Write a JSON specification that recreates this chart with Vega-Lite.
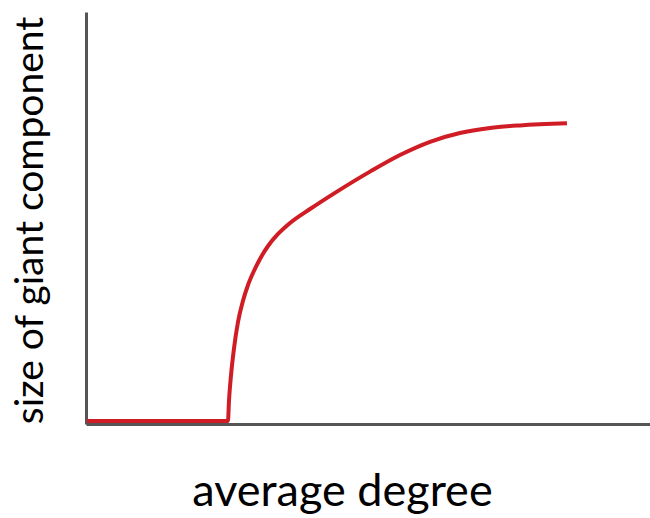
{
  "$schema": "https://vega.github.io/schema/vega-lite/v6.json",
  "width": 564,
  "height": 412,
  "autosize": {"type": "none"},
  "padding": {"left": 86, "top": 12, "right": 0, "bottom": 94},
  "background": "white",
  "config": {"view": {"stroke": null}},
  "data": {
    "values": [
      {"degree": 0.007, "size": 0.0073},
      {"degree": 1.007, "size": 0.0073},
      {"degree": 1.014, "size": 0.0558},
      {"degree": 1.028, "size": 0.1165},
      {"degree": 1.05, "size": 0.1845},
      {"degree": 1.078, "size": 0.2476},
      {"degree": 1.113, "size": 0.2985},
      {"degree": 1.149, "size": 0.3374},
      {"degree": 1.191, "size": 0.3714},
      {"degree": 1.234, "size": 0.4005},
      {"degree": 1.291, "size": 0.432},
      {"degree": 1.362, "size": 0.4612},
      {"degree": 1.447, "size": 0.4879},
      {"degree": 1.589, "size": 0.5218},
      {"degree": 1.78, "size": 0.5641},
      {"degree": 2.014, "size": 0.6126},
      {"degree": 2.227, "size": 0.6529},
      {"degree": 2.44, "size": 0.685},
      {"degree": 2.652, "size": 0.7063},
      {"degree": 2.865, "size": 0.7184},
      {"degree": 3.078, "size": 0.7248},
      {"degree": 3.411, "size": 0.7299}
    ]
  },
  "mark": {"type": "line", "color": "#d01c24", "strokeWidth": 4, "interpolate": "monotone", "strokeCap": "butt", "clip": false},
  "encoding": {
    "x": {
      "field": "degree", "type": "quantitative",
      "scale": {"domain": [0, 4], "nice": false, "zero": false},
      "axis": {
        "title": "average degree", "ticks": false, "labels": false, "grid": false,
        "domainColor": "#555555", "domainWidth": 3,
        "titleFont": "Lato", "titleFontSize": 45, "titleFontWeight": "normal", "titleColor": "#000000",
        "titleBaseline": "alphabetic", "titlePadding": 81, "titleX": 256
      }
    },
    "y": {
      "field": "size", "type": "quantitative",
      "scale": {"domain": [0, 1], "nice": false, "zero": false},
      "axis": {
        "title": "size of giant component", "ticks": false, "labels": false, "grid": false,
        "domainColor": "#555555", "domainWidth": 3,
        "titleFont": "Lato", "titleFontSize": 39, "titleFontWeight": "normal", "titleColor": "#000000",
        "titleBaseline": "alphabetic", "titlePadding": 44, "titleY": 208
      }
    }
  }
}
